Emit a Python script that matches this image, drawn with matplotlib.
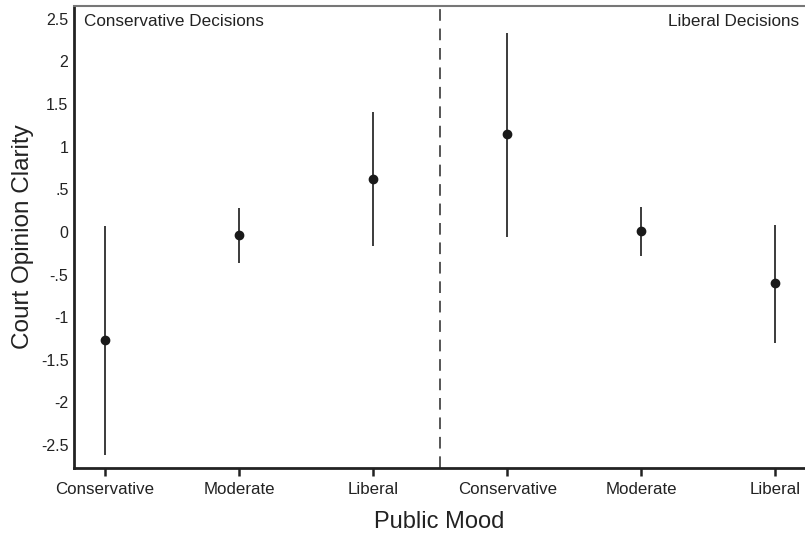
import matplotlib
matplotlib.use("Agg")
import matplotlib.pyplot as plt

plt.rcParams['font.family'] = ['Liberation Sans', 'DejaVu Sans']

mood_labels = ["Conservative", "Moderate", "Liberal", "Conservative", "Moderate", "Liberal"]
estimates = [-1.27, -0.04, 0.62, 1.15, 0.01, -0.60]
ci_low = [-2.62, -0.37, -0.16, -0.06, -0.28, -1.30]
ci_high = [0.07, 0.28, 1.41, 2.33, 0.29, 0.08]
y_ticks = [2.5, 2, 1.5, 1, 0.5, 0, -0.5, -1, -1.5, -2, -2.5]
y_tick_labels = ["2.5", "2", "1.5", "1", ".5", "0", "-.5", "-1", "-1.5", "-2", "-2.5"]

fig = plt.figure(figsize=(8.05, 5.36), dpi=100)
ax = fig.add_axes([74/805, 68/536, 1 - 74/805, (468-6)/536])

xs = list(range(1, len(estimates) + 1))
ax.vlines(xs, ci_low, ci_high, color="#1a1a1a", lw=1.2)
ax.plot(xs, estimates, 'o', color="#1a1a1a", ms=6, zorder=3)
ax.axvline(3.5, color="#555555", lw=1.4, ls=(0, (6, 4)))

ax.set_xlim(0.77, 6.22)
ax.set_ylim(-2.77, 2.65)
ax.set_xticks(xs)
ax.set_xticklabels(mood_labels, fontsize=12.2, color="#222222")
ax.set_yticks(y_ticks)
ax.set_yticklabels(y_tick_labels, fontsize=11.5, color="#222222")
ax.tick_params(axis='y', length=0, pad=4)
ax.tick_params(axis='x', length=6, width=1.8, color="#222222", pad=4)

ax.spines['left'].set_linewidth(2)
ax.spines['bottom'].set_linewidth(2)
ax.spines['left'].set_color("#222222")
ax.spines['bottom'].set_color("#222222")
ax.spines['top'].set_color("#777777")
ax.spines['top'].set_linewidth(1.5)
ax.spines['right'].set_visible(False)

ax.text(0.014, 0.982, "Conservative Decisions", transform=ax.transAxes, ha='left', va='top', fontsize=12.3, color="#222222")
ax.text(0.992, 0.982, "Liberal Decisions", transform=ax.transAxes, ha='right', va='top', fontsize=12.3, color="#222222")

ax.set_xlabel("Public Mood", fontsize=17, color="#222222", labelpad=10)
ax.set_ylabel("Court Opinion Clarity", fontsize=17.5, color="#222222", labelpad=5)

fig.savefig("out.png", dpi=100)
